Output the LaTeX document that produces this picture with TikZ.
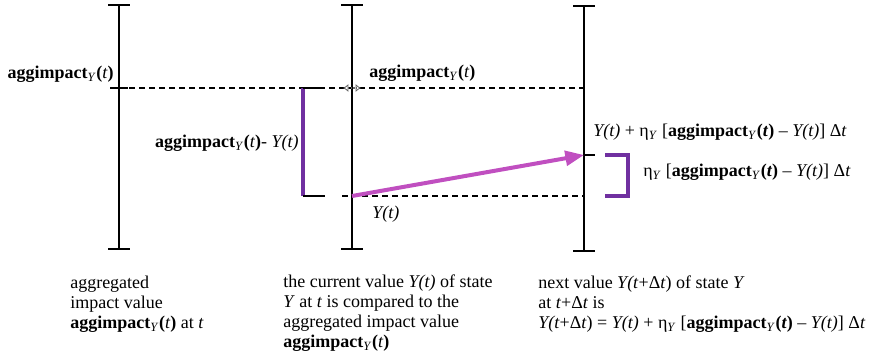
\documentclass[tikz,border=0pt]{standalone}
\usepackage{fontspec}
\setmainfont{Liberation Serif}
\usetikzlibrary{arrows.meta}
\definecolor{barpurple}{HTML}{7030A0}
\definecolor{movemagenta}{HTML}{C04FC0}
\newcommand{\aggY}{\textbf{aggimpact}\textsubscript{\textit{Y}}\textbf{(}\textit{t}\textbf{)}}
\newcommand{\etaY}{η\textsubscript{\textit{Y}}}
\tikzset{
  tl axis/.style={draw=black, line width=1.5pt},
  tl level/.style={draw=black, line width=1pt, dash pattern=on 4.5pt off 3pt},
  tl cap/.style={draw=black, line width=2.2pt},
  tl bar/.style={draw=barpurple, line width=2.4pt},
  tl move/.style={draw=movemagenta, line width=3pt, -{Triangle[length=14pt, width=11pt]}},
  tl lbl/.style={inner sep=0pt, font=\fontsize{13.5}{15}\selectfont},
  tl note/.style={tl lbl, align=left, anchor=north west},
}
\begin{document}
\begin{tikzpicture}[x=0.75pt, y=-0.75pt]
  \useasboundingbox (0,0) rectangle (882,361);
  % three time lines
  \foreach \n/\x/\t/\b in {a/119/5/249, b/352/5/249, c/584/6/251} {
    \coordinate (\n top) at (\x,\t);
    \coordinate (\n bot) at (\x,\b);
    \draw[tl axis] (\n top) -- (\n bot);
    \draw[tl axis] (\n top) ++(-11,0) -- ++(22,0);
    \draw[tl axis] (\n bot) ++(-11,0) -- ++(22,0);
  }
  \coordinate (agg a) at (119,88);
  \coordinate (agg b) at (352,88);
  \coordinate (agg c) at (584,88);
  \coordinate (cur b) at (352,196);
  \coordinate (cur c) at (584,196);
  \coordinate (next c) at (584,155);
  \coordinate (bl top) at (303,88);
  \coordinate (bl bot) at (303,196);
  \coordinate (br top) at (605,155);
  \coordinate (br bot) at (605,196);

  % levels
  \draw[tl level] (agg a) -- (agg c);
  \draw[tl level] (cur b) ++(-10,0) -- (cur c);
  \draw[tl axis] (agg a) ++(-9,0) -- ++(18,0);
  \draw[tl axis] (next c) -- ++(11,0);
  \draw[black!60, line width=1.6pt, dash pattern=on 1pt off 1pt, {Latex[open, length=4pt, width=6pt, line width=0.6pt]}-{Latex[open, length=4pt, width=6pt, line width=0.6pt]}]
    (agg b) ++(-9,0) -- ++(18,0);

  % difference brackets
  \draw[tl bar] (bl top) -- (bl bot);
  \draw[tl cap] (bl top) -- ++(22,0);
  \draw[tl cap] (bl bot) -- ++(22,0);
  \draw[tl bar] (br top) -- ++(23,0) |- (br bot);

  % step to next value
  \draw[tl move] (cur b) -- (next c);

  % labels
  \node[tl lbl, anchor=east] (agg a lbl) at (114,74) {\aggY};
  \node[tl lbl, anchor=east] (diff lbl) at (299,143) {\aggY- \textit{Y(t)}};
  \node[tl lbl, anchor=west] (agg b lbl) at (369,73) {\aggY};
  \node[tl lbl, anchor=west] (cur lbl) at (372,214) {\textit{Y(t)}};
  \node[tl lbl, anchor=west] (next lbl) at (593,132)
    {\textit{Y(t)} + \etaY{} [\textbf{aggimpact}\textsubscript{\textit{Y}}\textbf{(\textit{t})} – \textit{Y(t)}] Δ\textit{t}};
  \node[tl lbl, anchor=west] (step lbl) at (643,172)
    {\etaY{} [\textbf{aggimpact}\textsubscript{\textit{Y}}\textbf{(\textit{t})} – \textit{Y(t)}] Δ\textit{t}};

  % captions
  \node[tl note] (note a) at (70,276) {aggregated\\impact value\\\aggY{} at \textit{t}};
  \node[tl note] (note b) at (283,275) {the current value \textit{Y(t)} of state\\\textit{Y} at \textit{t} is compared to the\\aggregated impact value\\\aggY};
  \node[tl note] (note c) at (538,276) {next value \textit{Y(t}+Δ\textit{t}) of state \textit{Y}\\at \textit{t}+Δ\textit{t} is\\\textit{Y(t}+Δ\textit{t}) = \textit{Y(t)} + \etaY{} [\textbf{aggimpact}\textsubscript{\textit{Y}}\textbf{(\textit{t})} – \textit{Y(t)}] Δ\textit{t}};
\end{tikzpicture}
\end{document}
